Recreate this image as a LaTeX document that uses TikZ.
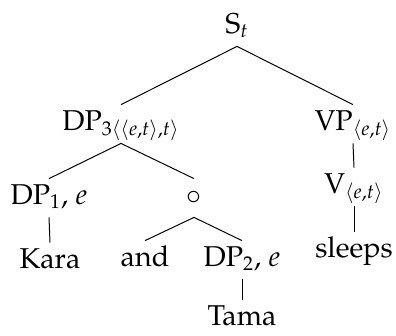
\documentclass[tikz,border=0pt]{standalone}
\usepackage[T1]{fontenc}
\usepackage{mathpazo}
\usepackage{amsmath}
\usetikzlibrary{positioning}
\newcommand{\ty}[1]{\ensuremath{\langle #1\rangle}}

\begin{document}
\begin{tikzpicture}[
  x=0.5bp,y=-0.5bp,
  cat/.style={anchor=base,inner sep=0pt,font=\fontsize{14.4}{17}\selectfont,
    text height=12.5bp,text depth=6.5bp},
  branch/.style={line width=0.5pt}
]
\useasboundingbox (0,0) rectangle (396,335);
\node[cat] (st)      at (237,33)  {S$_t$};
\node[cat] (dpthree) at (121,130) {DP$_{3\ty{\ty{e,t},t}}$};
\node[cat] (vp)      at (353,130) {VP$_{\ty{e,t}}$};
\node[cat] (dpone)   at (49,204)  {DP$_1$, $e$};
\node[cat] (conj)    at (194,204) {$\circ$};
\node[cat] (v)       at (354,193) {V$_{\ty{e,t}}$};
\node[cat] (kara)    at (50,268)  {Kara};
\node[cat] (and)     at (145,266) {and};
\node[cat] (dptwo)   at (242,266) {DP$_2$, $e$};
\node[cat] (sleeps)  at (354,257) {sleeps};
\node[cat] (tama)    at (242,325) {Tama};
\draw[branch] (st.south) -- (dpthree.north);
\draw[branch] (st.south) -- (vp.north);
\draw[branch] (dpthree.south) -- (dpone.north);
\draw[branch] (dpthree.south) -- (conj.north);
\draw[branch] (vp.south) -- (v.north);
\draw[branch] (v.south) -- (sleeps.north);
\draw[branch] (dpone.south) -- (kara.north);
\draw[branch] (conj.south) -- (and.north);
\draw[branch] (conj.south) -- (dptwo.north);
\draw[branch] (dptwo.south) -- (tama.north);
\end{tikzpicture}
\end{document}
